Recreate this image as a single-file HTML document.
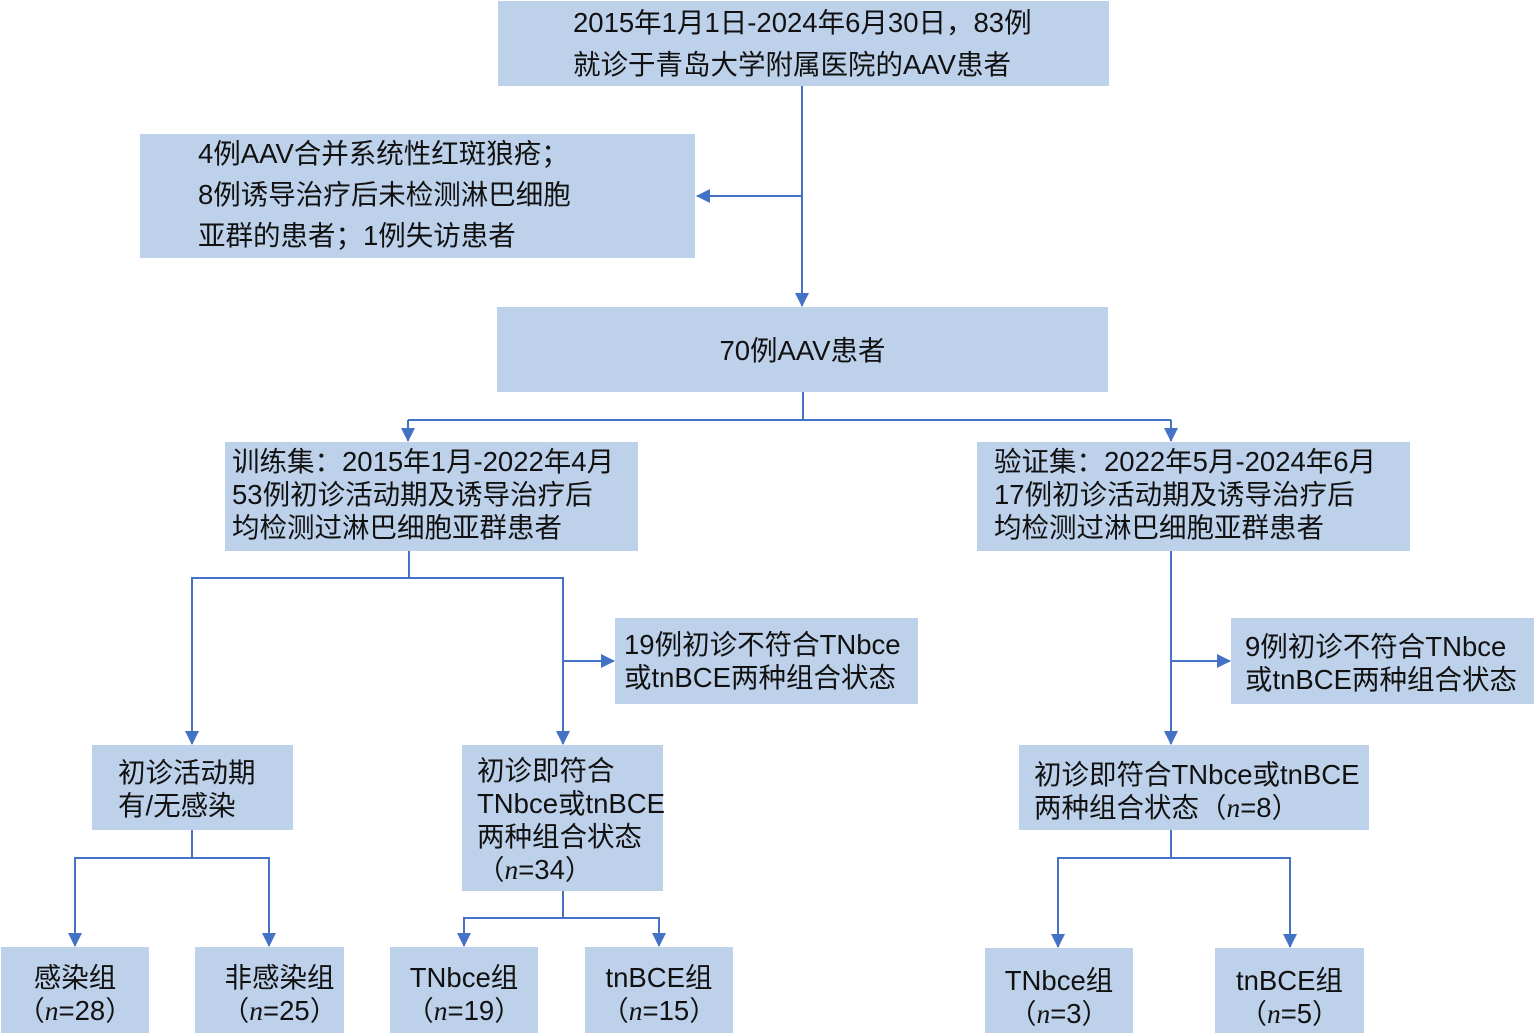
<!DOCTYPE html>
<html><head><meta charset="utf-8"><style>
body{margin:0;width:1535px;height:1035px;background:#fff;position:relative;overflow:hidden;font-family:"Liberation Sans","Noto Sans CJK SC",sans-serif;color:#111}
.b{position:absolute;background:#bdd1ea;box-sizing:border-box}
.t{position:absolute;font-size:27.5px;line-height:33px;white-space:nowrap}
svg{position:absolute;left:0;top:0}
i{font-family:"Liberation Serif",serif}
</style></head><body>
<div class="b" style="left:498px;top:1px;width:611px;height:85px"></div>
<div class="t" style="left:573px;top:2px;line-height:42px">2015年1月1日-2024年6月30日，83例<br>就诊于青岛大学附属医院的AAV患者</div>
<div class="b" style="left:140px;top:134px;width:555px;height:124px"></div>
<div class="t" style="left:198px;top:133px;line-height:41px">4例AAV合并系统性红斑狼疮；<br>8例诱导治疗后未检测淋巴细胞<br>亚群的患者；1例失访患者</div>
<div class="b" style="left:497px;top:307px;width:611px;height:85px"></div>
<div class="t" style="left:497px;width:611px;text-align:center;top:334px">70例AAV患者</div>
<div class="b" style="left:225px;top:442px;width:413px;height:109px"></div>
<div class="t" style="left:232px;top:445px">训练集：2015年1月-2022年4月<br>53例初诊活动期及诱导治疗后<br>均检测过淋巴细胞亚群患者</div>
<div class="b" style="left:977px;top:442px;width:433px;height:109px"></div>
<div class="t" style="left:994px;top:445px">验证集：2022年5月-2024年6月<br>17例初诊活动期及诱导治疗后<br>均检测过淋巴细胞亚群患者</div>
<div class="b" style="left:615px;top:618px;width:303px;height:86px"></div>
<div class="t" style="left:624px;top:628px">19例初诊不符合TNbce<br>或tnBCE两种组合状态</div>
<div class="b" style="left:1231px;top:618px;width:303px;height:86px"></div>
<div class="t" style="left:1245px;top:630px">9例初诊不符合TNbce<br>或tnBCE两种组合状态</div>
<div class="b" style="left:92px;top:745px;width:201px;height:85px"></div>
<div class="t" style="left:118px;top:756px">初诊活动期<br>有/无感染</div>
<div class="b" style="left:462px;top:745px;width:201px;height:146px"></div>
<div class="t" style="left:477px;top:754px">初诊即符合<br>TNbce或tnBCE<br>两种组合状态<br>（<i>n</i>=34）</div>
<div class="b" style="left:1019px;top:745px;width:350px;height:85px"></div>
<div class="t" style="left:1034px;top:758px">初诊即符合TNbce或tnBCE<br>两种组合状态（<i>n</i>=8）</div>
<div class="b" style="left:1px;top:947px;width:148px;height:86px"></div>
<div class="t" style="left:1px;width:148px;text-align:center;top:961px">感染组<br>（<i>n</i>=28）</div>
<div class="b" style="left:195px;top:947px;width:149px;height:86px"></div>
<div class="t" style="left:205px;width:149px;text-align:center;top:961px">非感染组<br>（<i>n</i>=25）</div>
<div class="b" style="left:390px;top:947px;width:148px;height:86px"></div>
<div class="t" style="left:390px;width:148px;text-align:center;top:961px">TNbce组<br>（<i>n</i>=19）</div>
<div class="b" style="left:585px;top:947px;width:148px;height:86px"></div>
<div class="t" style="left:585px;width:148px;text-align:center;top:961px">tnBCE组<br>（<i>n</i>=15）</div>
<div class="b" style="left:985px;top:948px;width:148px;height:85px"></div>
<div class="t" style="left:985px;width:148px;text-align:center;top:964px">TNbce组<br>（<i>n</i>=3）</div>
<div class="b" style="left:1215px;top:948px;width:149px;height:85px"></div>
<div class="t" style="left:1215px;width:149px;text-align:center;top:964px">tnBCE组<br>（<i>n</i>=5）</div>
<svg width="1535" height="1035" fill="none" stroke="#4472c4" stroke-width="2">
<defs><marker id="m" markerWidth="14" markerHeight="14" refX="13" refY="7" orient="auto" markerUnits="userSpaceOnUse"><path d="M0,0L14,7L0,14z" fill="#4472c4" stroke="none"/></marker></defs>
<path d="M802 86V306" marker-end="url(#m)"/>
<path d="M802 196H697" marker-end="url(#m)"/>
<path d="M803 392V420M408 420H1171M408 420V441" marker-end="url(#m)"/>
<path d="M1171 420V441" marker-end="url(#m)"/>
<path d="M409 551V578H192V744" marker-end="url(#m)"/>
<path d="M409 578H563V744" marker-end="url(#m)"/>
<path d="M563 661H614" marker-end="url(#m)"/>
<path d="M1171 551V744" marker-end="url(#m)"/>
<path d="M1171 661H1230" marker-end="url(#m)"/>
<path d="M192 830V858H75V946" marker-end="url(#m)"/>
<path d="M192 858H269V946" marker-end="url(#m)"/>
<path d="M563 891V918H464V946" marker-end="url(#m)"/>
<path d="M563 918H659V946" marker-end="url(#m)"/>
<path d="M1171 830V858H1058V947" marker-end="url(#m)"/>
<path d="M1171 858H1290V947" marker-end="url(#m)"/>
</svg>
</body></html>
